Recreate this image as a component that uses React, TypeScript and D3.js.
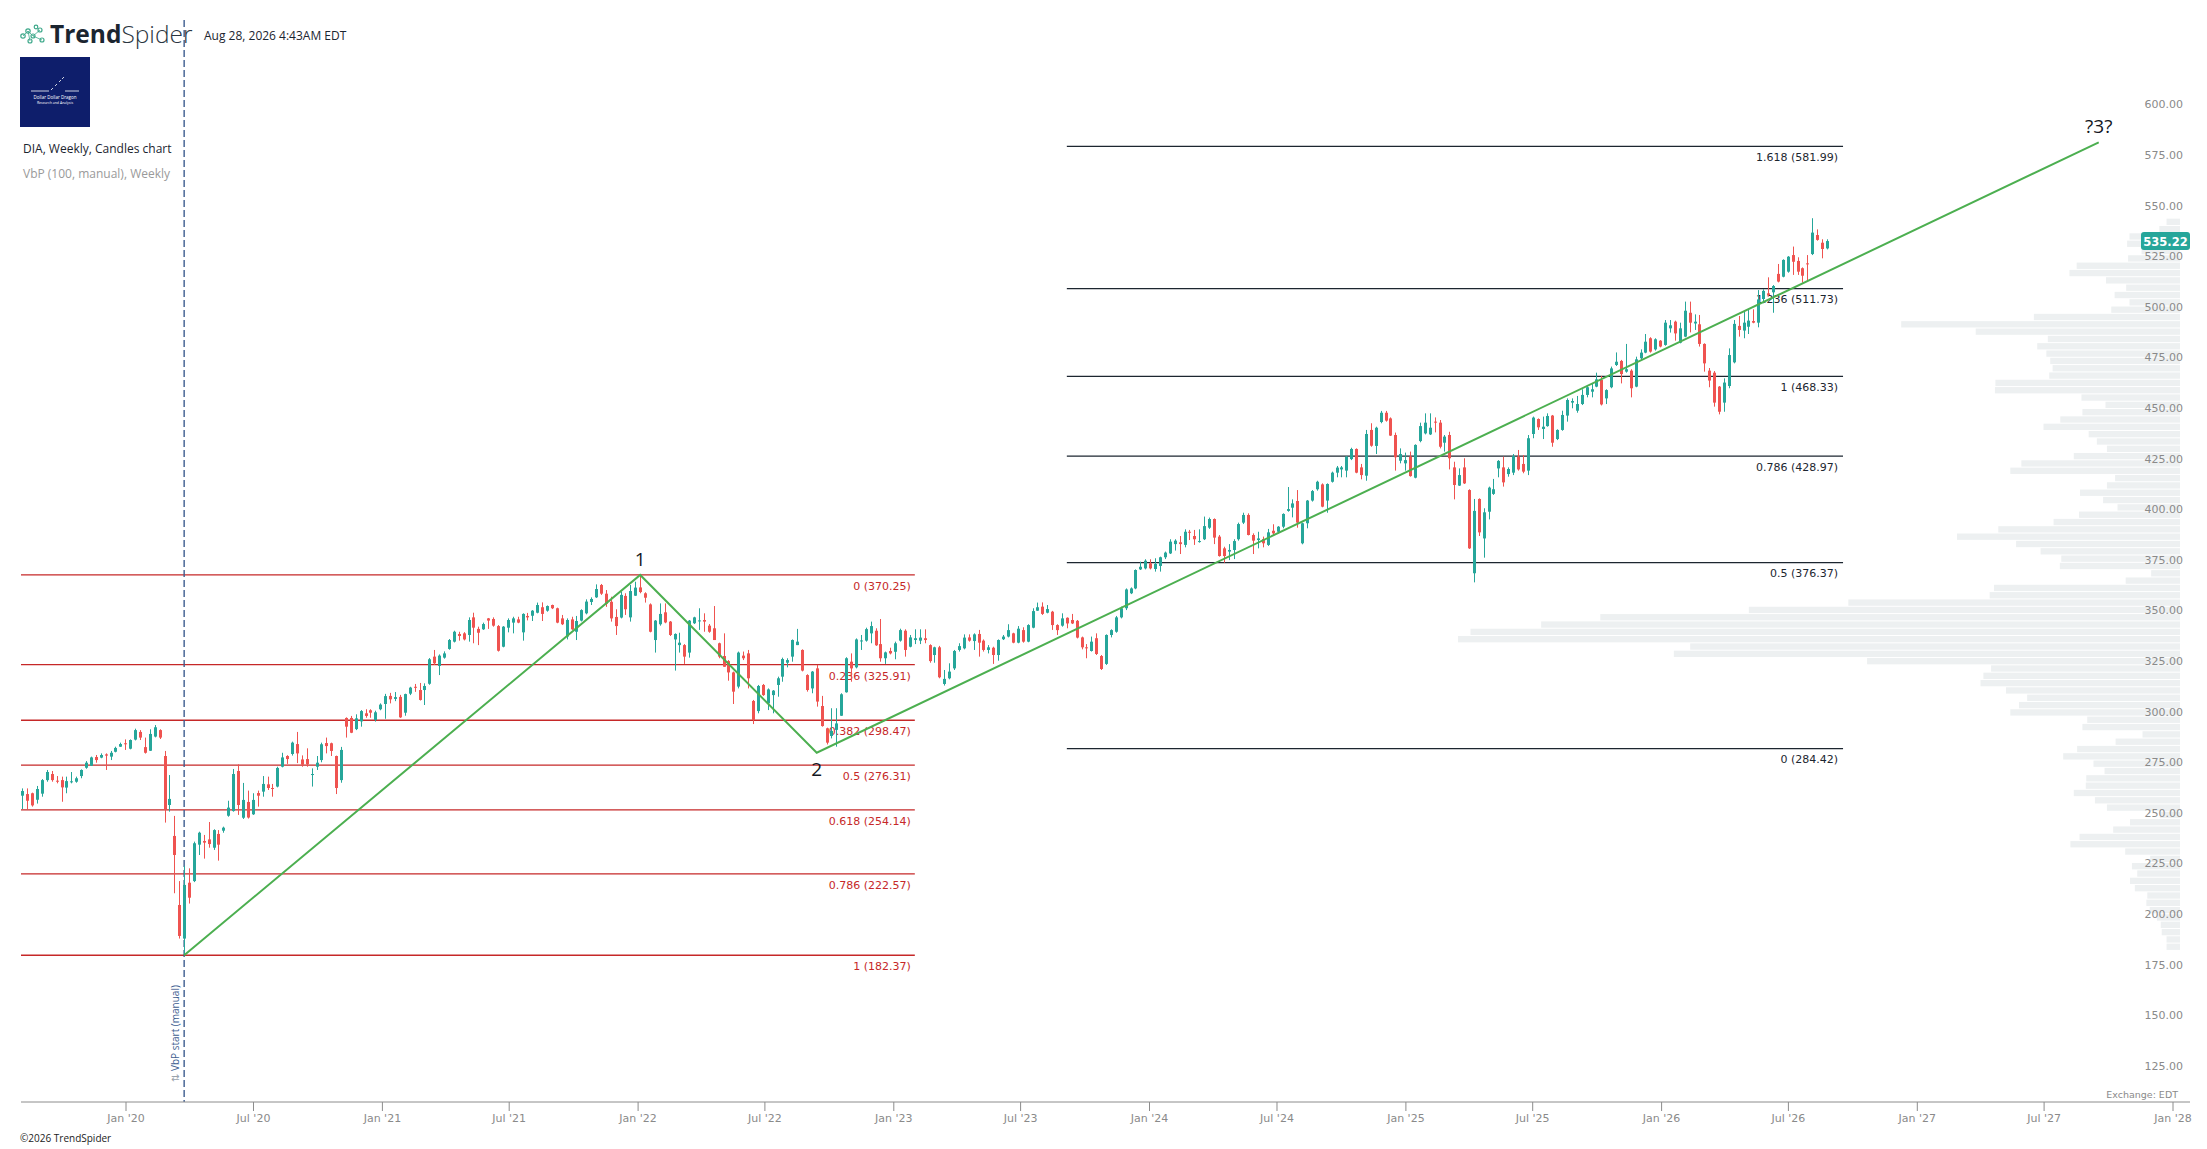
import React from "react";
import * as d3 from "d3";

const W = 2207;
const H = 1149;
const PLOT_LEFT = 21;
const PLOT_RIGHT = 2190;
const AXIS_Y = 1102;
const VBP_RIGHT = 2180;
const VBP_MAX_LEN = 722;

const UP = "#26a69a";
const DOWN = "#ef5350";
const FIB_RED = "#c62828";
const FIB_DARK = "#1c2630";
const WAVE = "#4caf50";
const AXIS_TEXT = "#8a8a8a";

// weekly candles, first one is the week of Aug 5 2019
const FIRST_WEEK = new Date(2019, 7, 6);
// [open, high, low, close]
const CANDLES: [number, number, number, number][] = [
  [261.2,264.8,254.6,263.5],[262.0,264.8,254.6,258.7],[262.4,262.7,255.8,256.4],[259.2,266.0,257.3,264.5],
  [262.2,269.4,260.7,268.9],[268.9,273.9,268.1,272.9],[271.9,273.4,268.1,268.9],[268.6,270.9,267.3,268.1],
  [268.9,270.6,258.2,265.3],[265.2,270.6,262.4,268.4],[267.8,272.9,267.3,268.3],[268.1,270.6,267.6,269.8],
  [270.9,274.2,269.8,273.9],[275.0,278.3,274.5,277.5],[276.0,280.5,275.9,280.1],[280.3,281.3,277.5,278.8],
  [280.0,282.1,279.7,281.3],[281.6,282.1,273.9,281.0],[280.5,283.3,278.8,282.4],[282.9,285.4,282.6,284.8],
  [285.4,287.4,285.3,286.7],[287.1,289.0,283.8,286.6],[284.4,289.0,284.1,288.7],[288.9,294.3,288.5,293.6],
  [292.7,293.6,288.7,289.9],[285.2,289.9,282.0,282.4],[283.4,294.0,283.3,291.7],[290.4,296.1,290.0,295.0],
  [293.6,294.0,289.2,289.9],[280.8,283.3,247.9,254.5],[256.6,271.4,253.3,259.6],[241.3,251.2,213.0,231.9],
  [207.2,219.0,190.6,191.9],[190.6,226.5,182.37,217.1],[218.2,225.3,207.9,210.8],[219.0,238.5,218.5,237.7],
  [237.0,243.4,231.9,242.9],[238.8,241.8,230.1,238.0],[239.6,248.2,235.5,237.3],[235.5,244.6,234.4,244.2],
  [242.3,244.2,229.1,237.0],[243.9,245.9,242.9,245.4],[251.3,258.7,250.8,255.3],[253.6,274.4,253.3,271.9],
  [273.4,276.7,251.7,256.6],[250.3,267.5,249.7,259.1],[258.1,263.7,249.9,250.4],[252.0,262.4,251.7,259.1],
  [262.5,263.7,255.8,261.2],[263.2,270.9,260.7,267.0],[266.8,270.6,264.0,265.0],[265.0,267.0,260.7,264.7],
  [265.7,275.5,265.3,274.9],[275.5,282.4,275.2,280.1],[280.8,281.2,276.9,279.3],[281.8,287.9,281.0,287.4],
  [286.7,292.7,277.3,282.1],[279.1,281.1,275.5,276.5],[279.3,284.6,275.5,276.7],[271.6,274.7,265.7,271.9],
  [275.5,280.8,273.9,277.5],[278.8,287.4,277.7,286.6],[287.2,289.9,282.1,285.7],[287.1,287.4,280.8,283.3],
  [280.8,281.0,262.0,265.0],[268.9,285.3,267.6,283.8],[299.6,299.9,289.9,295.3],[299.6,300.6,292.1,292.3],
  [294.1,301.4,293.6,299.4],[297.9,303.5,295.3,303.0],[301.9,303.9,299.7,300.6],[303.4,303.9,299.7,302.2],
  [298.6,303.2,297.8,302.4],[303.9,306.8,303.4,306.2],[306.5,311.5,299.2,310.4],[310.5,312.0,306.8,308.8],
  [309.0,312.4,307.9,309.9],[310.0,311.0,299.6,299.9],[302.2,311.6,300.7,311.4],[311.6,315.0,310.9,314.6],
  [315.0,316.4,312.5,314.7],[313.4,316.9,308.2,308.5],[313.4,316.7,306.0,315.4],[316.5,329.2,316.0,328.6],
  [329.9,333.2,325.8,326.6],[325.3,331.0,320.8,330.4],[329.4,332.5,328.9,331.5],[333.7,338.6,333.3,338.1],
  [337.3,342.7,336.9,342.2],[341.1,342.2,337.8,340.1],[341.4,342.0,337.9,338.4],[340.6,349.3,337.3,348.0],
  [349.3,351.6,336.5,344.2],[343.6,344.7,335.6,341.7],[343.4,346.7,343.1,346.0],[348.8,349.0,343.6,347.7],
  [348.5,349.3,344.7,345.2],[345.0,345.5,332.4,332.8],[334.8,345.0,334.5,344.7],[344.2,348.8,341.9,348.0],
  [346.7,349.6,341.4,348.8],[348.3,349.6,346.4,346.7],[341.9,351.3,337.8,351.0],[350.0,351.5,347.8,349.3],
  [350.1,352.9,347.5,352.6],[351.6,356.6,351.3,355.4],[354.3,356.7,347.5,351.0],[352.6,355.2,352.1,354.9],
  [355.4,355.6,353.4,353.8],[353.8,354.1,346.4,346.7],[348.8,350.5,345.5,345.9],[339.8,348.8,338.4,348.0],
  [348.3,349.6,343.1,343.4],[342.2,350.0,338.1,347.5],[347.7,353.3,347.3,352.9],[351.3,358.2,350.8,357.1],
  [356.9,359.2,355.4,358.4],[359.2,365.6,358.9,363.3],[365.3,365.8,360.4,361.0],[361.0,362.8,354.5,356.0],
  [357.0,359.5,347.2,348.8],[349.5,353.3,340.6,345.0],[349.2,362.0,348.8,360.4],[359.9,361.2,350.5,353.3],
  [349.3,365.3,347.2,362.3],[360.0,366.9,359.9,364.0],[364.1,370.25,361.2,361.8],[361.2,361.7,356.6,359.0],
  [355.7,356.2,341.9,342.2],[338.1,348.0,331.9,347.7],[345.9,356.2,345.2,351.0],[351.8,356.2,346.4,346.8],
  [347.2,347.5,340.1,340.6],[338.4,341.4,323.0,341.1],[335.6,341.7,331.9,336.8],[335.6,336.1,326.3,329.9],
  [331.9,348.0,329.4,347.7],[346.4,349.6,346.0,349.3],[347.3,353.8,343.1,347.8],[348.0,351.3,342.2,347.2],
  [345.2,346.0,341.7,342.2],[343.9,354.9,338.1,338.1],[336.5,336.8,329.1,329.9],[330.2,341.4,324.9,324.9],
  [327.7,328.2,318.0,322.1],[322.1,322.5,306.5,312.6],[315.1,332.4,314.2,331.9],[330.4,332.4,328.2,329.1],
  [331.5,333.2,314.2,319.2],[308.0,308.5,296.6,298.6],[303.0,315.9,301.9,315.4],[315.9,316.4,310.5,310.9],
  [306.8,314.2,303.5,313.7],[310.9,313.4,301.9,313.1],[315.9,320.0,310.1,319.2],[320.0,329.4,317.5,328.7],
  [326.9,329.1,324.6,328.2],[329.9,338.4,327.4,338.1],[335.6,343.6,335.6,337.3],[333.2,333.5,322.6,323.0],
  [320.8,321.2,312.6,313.4],[314.2,322.8,311.8,322.5],[324.1,325.8,305.2,307.7],[305.5,310.5,295.3,295.6],
  [294.5,294.8,286.5,287.4],[290.7,304.4,289.5,293.2],[293.7,304.4,285.4,296.9],[300.7,311.8,300.6,311.3],
  [312.3,329.6,312.1,329.1],[327.4,331.5,317.5,324.1],[324.6,338.9,324.1,338.4],[337.6,340.6,333.2,337.9],
  [337.8,344.2,337.3,343.5],[341.4,347.2,336.5,345.0],[342.7,343.9,335.2,335.5],[336.1,348.5,327.4,329.1],
  [329.1,332.4,326.3,332.0],[332.7,334.3,331.0,331.5],[332.3,337.3,328.6,336.5],[337.8,343.7,337.3,343.0],
  [342.7,343.4,329.9,333.2],[334.8,340.6,334.5,339.4],[338.1,343.4,336.1,339.0],[337.8,343.4,336.1,339.3],
  [339.0,343.4,336.5,338.1],[335.6,336.0,326.9,327.7],[330.7,334.8,326.9,334.5],[334.5,335.2,319.2,319.7],
  [316.4,323.3,315.6,318.9],[319.2,326.6,318.7,322.5],[324.1,333.2,323.3,332.7],[333.2,336.5,332.4,335.1],
  [334.0,340.9,333.5,339.3],[339.4,340.9,337.3,337.8],[337.6,341.4,333.2,340.9],[341.1,343.1,329.9,336.8],
  [337.8,338.4,332.4,333.2],[333.2,335.6,331.5,334.5],[334.3,334.8,326.3,330.7],[330.7,338.4,327.9,338.1],
  [338.5,340.6,338.1,339.8],[339.8,345.9,339.4,343.0],[341.4,341.7,336.5,336.8],[336.8,345.0,336.5,343.7],
  [343.0,344.4,336.8,337.3],[337.3,345.9,337.0,345.5],[344.2,353.8,343.9,352.4],[352.6,356.6,352.5,354.3],
  [354.6,356.7,350.5,351.0],[351.6,355.4,351.3,353.4],[352.1,352.5,343.1,345.5],[345.5,345.9,340.6,343.0],
  [345.2,351.3,344.7,348.8],[349.1,349.3,343.9,346.3],[348.0,351.0,346.0,346.3],[347.6,348.0,338.9,339.3],
  [339.4,339.8,333.5,334.5],[334.5,336.1,329.1,334.0],[332.7,339.8,332.4,337.3],[339.0,341.4,330.7,331.2],
  [330.2,330.7,323.3,323.8],[326.3,340.9,325.8,340.6],[340.6,343.4,339.4,343.0],[342.2,350.0,341.7,349.3],
  [349.3,354.6,348.8,353.8],[353.8,363.6,352.9,363.1],[361.2,364.1,360.8,363.6],[363.6,373.0,363.2,372.7],
  [373.0,376.8,372.7,374.3],[373.5,378.0,373.0,377.3],[376.0,378.0,373.0,373.5],[373.2,378.5,371.9,375.7],
  [374.7,379.3,371.9,379.0],[379.0,381.8,378.1,381.3],[380.9,387.9,380.6,386.7],[385.5,387.9,382.3,387.2],
  [386.4,389.5,380.6,385.5],[385.1,392.8,383.9,391.6],[391.6,392.5,387.5,391.1],[389.5,392.5,385.1,387.9],
  [386.7,392.8,386.2,387.0],[387.9,399.1,387.5,394.4],[393.6,398.6,393.0,397.9],[397.9,398.2,385.5,388.7],
  [389.2,390.0,379.3,379.6],[383.4,384.2,376.3,379.6],[381.8,385.5,377.6,382.6],[382.6,387.9,378.1,387.0],
  [387.9,396.1,387.2,395.4],[396.1,401.0,395.4,399.9],[399.9,400.7,389.8,390.0],[390.0,390.8,380.6,387.2],
  [387.5,391.6,383.4,388.3],[388.0,389.2,383.9,385.9],[385.1,393.0,384.6,391.3],[392.1,395.3,390.0,390.8],
  [391.6,394.4,390.8,394.1],[394.1,400.7,393.3,400.4],[401.9,413.7,401.5,402.8],[403.5,407.6,398.7,405.6],
  [406.8,412.2,393.6,396.1],[385.9,396.1,385.4,395.8],[395.8,407.3,393.3,407.0],[407.0,412.2,406.5,411.7],
  [412.6,416.8,411.9,416.3],[415.0,415.5,403.7,404.0],[407.0,415.5,401.0,415.2],[416.3,421.3,415.9,420.8],
  [420.8,424.1,418.5,423.3],[422.4,424.1,418.5,423.4],[421.8,429.0,418.5,428.7],[427.5,433.1,427.0,432.5],
  [432.5,432.8,420.5,420.8],[423.4,425.1,417.5,419.6],[419.3,441.9,416.8,439.9],[441.9,445.2,433.6,434.1],
  [434.0,443.5,430.0,443.0],[445.8,451.3,445.2,450.4],[450.4,451.3,446.0,446.5],[447.6,448.1,438.9,439.1],
  [439.4,440.6,421.8,428.4],[426.7,432.8,425.4,430.0],[425.4,430.7,421.8,427.0],[428.7,431.2,418.8,419.1],
  [418.3,434.8,418.0,434.5],[436.4,445.5,435.8,443.8],[440.2,450.1,439.7,445.5],[439.7,450.1,439.4,443.0],
  [446.0,448.1,440.7,445.5],[445.5,446.8,432.8,433.6],[435.6,439.4,431.2,438.6],[439.4,441.0,422.4,427.9],
  [423.4,426.2,407.6,414.7],[414.4,422.9,414.2,419.6],[423.4,427.9,415.2,415.5],[412.2,412.6,383.1,383.4],
  [371.1,407.8,366.6,401.9],[407.8,408.1,389.5,391.3],[388.3,403.2,378.8,401.2],[401.5,413.9,397.7,413.4],
  [410.3,417.7,409.8,412.6],[422.9,427.0,418.5,426.6],[423.4,428.7,413.9,416.0],[420.1,423.4,418.8,422.6],
  [420.8,430.0,419.6,429.0],[428.7,432.0,421.8,422.4],[425.1,429.5,420.5,421.3],[421.8,439.4,419.6,437.8],
  [439.9,448.5,437.8,448.0],[447.3,447.6,441.9,443.2],[442.4,448.5,437.4,443.5],[443.8,450.1,443.5,448.8],
  [449.0,449.3,433.6,435.6],[437.4,442.2,436.9,441.9],[441.9,451.4,441.5,449.3],[449.0,457.5,446.0,456.7],
  [455.4,457.5,452.6,456.2],[451.4,458.7,450.4,454.7],[454.7,462.0,454.2,459.2],[459.2,463.6,458.0,463.0],
  [460.8,464.9,458.0,462.0],[463.3,470.2,463.0,466.9],[466.6,468.6,454.0,454.5],[457.5,462.0,454.7,461.6],
  [463.0,473.2,462.5,472.3],[474.0,480.2,473.5,475.6],[476.0,476.5,464.9,469.5],[470.7,484.4,470.2,471.9],
  [471.2,471.9,458.0,462.5],[463.3,478.1,463.0,476.8],[477.3,481.7,476.5,480.1],[480.1,489.3,479.8,485.5],
  [487.2,487.7,480.1,480.6],[481.7,487.2,481.1,486.7],[486.0,486.3,482.7,483.1],[483.9,496.2,483.5,494.9],
  [492.1,496.2,490.0,493.6],[495.4,495.9,486.0,489.6],[485.0,494.9,484.7,492.1],[488.0,505.3,487.7,500.8],
  [499.8,505.3,490.1,494.9],[494.5,499.0,491.3,495.4],[494.1,498.7,483.1,484.4],[484.4,484.7,470.7,474.8],
  [471.2,472.5,463.0,466.3],[470.2,471.0,453.4,455.4],[463.3,463.6,449.6,450.9],[455.4,467.4,450.9,465.3],
  [463.6,482.2,462.5,478.9],[475.3,496.2,474.8,494.3],[493.3,498.2,488.0,491.3],[491.0,500.3,487.2,494.9],
  [492.9,501.2,489.3,495.9],[495.7,501.5,494.6,494.9],[494.9,511.0,492.6,506.4],[506.6,511.4,504.5,510.6],
  [509.4,517.3,507.8,508.6],[509.9,513.5,499.8,513.0],[519.0,523.9,514.8,515.2],[517.6,526.2,517.3,525.9],
  [520.1,527.8,519.6,527.5],[528.3,532.5,518.5,525.0],[525.4,527.2,518.5,520.1],[521.8,522.2,514.7,518.1],
  [524.2,528.3,515.2,523.9],[528.8,546.5,528.3,539.4],[538.2,541.0,535.4,535.8],[534.4,536.1,526.7,531.3],
  [531.6,536.1,531.1,535.22],
];
const LAST_PRICE = 535.22;

// Fibonacci retracement (red) of the 2020 low -> 2022 high
const RET_RATIOS = ["0", "0.236", "0.382", "0.5", "0.618", "0.786", "1"];
const RET_PRICES = [370.25, 325.91, 298.47, 276.31, 254.14, 222.57, 182.37];
const RET_END = new Date(2023, 0, 31);

// Fibonacci extension (dark)
const EXT_RATIOS = ["1.618", "1.236", "1", "0.786", "0.5", "0"];
const EXT_PRICES = [581.99, 511.73, 468.33, 428.97, 376.37, 284.42];
const EXT_START = new Date(2023, 8, 5);
const EXT_END = new Date(2026, 8, 17);

// wave count drawn by hand
const WAVE_DATES = [new Date(2020, 2, 24), new Date(2022, 0, 4), new Date(2022, 8, 13), new Date(2027, 8, 17)];
const WAVE_PRICES = [182.37, 370.25, 282.4, 584.0];
const WAVE_LABELS = ["", "1", "2", "?3?"];
const WAVE_LABEL_SIDE = [0, -1, 1, -1];

// volume by price, 100 rows listed from the top (546.3) to the bottom (184.5)
const VBP_HIGH = 546.3;
const VBP_LOW = 184.5;
const VBP_TOP_DOWN = [
  28,43,105,110,80,108,215,230,154,112,
  136,105,143,304,580,425,275,297,278,270,
  265,272,384,385,205,155,203,249,284,190,
  173,152,221,330,353,135,152,208,160,130,
  210,263,378,464,341,290,247,250,60,113,
  387,396,690,897,1206,1329,1476,1502,1019,1053,
  651,393,409,415,362,318,335,353,193,203,
  78,134,214,243,180,157,195,196,221,177,
  152,42,104,139,209,228,114,62,100,89,
  104,94,68,70,63,48,40,38,28,28,
];
const VBP_START = new Date(2020, 2, 24);

const Y_TICKS = d3.range(125, 601, 25);

export default function App() {
  const x = d3.scaleTime()
    .domain([new Date(2020, 0, 1), new Date(2028, 0, 1)])
    .range([126, 2173]);
  const y = d3.scaleLinear().domain([125, 600]).range([1071.35, 109.95]);

  const xTicks = x.ticks(d3.timeMonth.every(6)!).filter(d => x(d) >= PLOT_LEFT);
  const fmt = d3.timeFormat("%b '%y");

  const candleDate = (i: number) => d3.timeDay.offset(FIRST_WEEK, i * 7);

  const rowH = (y(VBP_LOW) - y(VBP_HIGH)) / VBP_TOP_DOWN.length;
  const vbpLen = d3.scaleLinear().domain([0, d3.max(VBP_TOP_DOWN)!]).range([0, VBP_MAX_LEN]);

  const wavePts = WAVE_DATES.map((d, i) => [x(d), y(WAVE_PRICES[i])] as [number, number]);
  const waveLine = d3.line<[number, number]>()(wavePts) || "";

  const sans = "'Open Sans', 'DejaVu Sans', sans-serif";
  const dv = "'DejaVu Sans', sans-serif";
  const vbpX = x(VBP_START);
  const lastY = y(LAST_PRICE);

  return (
    <svg width={W} height={H} style={{ position: "absolute", left: 0, top: 0, display: "block", background: "#fff" }}>
      <rect width={W} height={H} fill="#fff" />

      {/* volume profile */}
      <g>
        {VBP_TOP_DOWN.map((v, i) => (
          <rect key={i} x={VBP_RIGHT - vbpLen(v)} y={y(VBP_HIGH) + i * rowH}
            width={vbpLen(v)} height={rowH - 1} fill="#edf0f1" />
        ))}
      </g>

      {/* y axis labels */}
      <g fontFamily={dv} fontSize={11} fill={AXIS_TEXT} textAnchor="end">
        {Y_TICKS.map(t => (
          <text key={t} x={2183} y={y(t) - 1.5}>{t.toFixed(2)}</text>
        ))}
      </g>

      {/* retracement */}
      <g>
        {RET_PRICES.map((p, i) => (
          <g key={i}>
            <line x1={PLOT_LEFT} x2={x(RET_END)} y1={y(p)} y2={y(p)} stroke={FIB_RED} strokeWidth={1.3} />
            <text x={x(RET_END) - 4} y={y(p) + 15} fontFamily={dv} fontSize={11} fill={FIB_RED} textAnchor="end">
              {`${RET_RATIOS[i]} (${p.toFixed(2)})`}
            </text>
          </g>
        ))}
      </g>

      {/* extension */}
      <g>
        {EXT_PRICES.map((p, i) => (
          <g key={i}>
            <line x1={x(EXT_START)} x2={x(EXT_END)} y1={y(p)} y2={y(p)} stroke={FIB_DARK} strokeWidth={1.2} />
            <text x={x(EXT_END) - 5} y={y(p) + 14.5} fontFamily={dv} fontSize={11} fill={FIB_DARK} textAnchor="end">
              {`${EXT_RATIOS[i]} (${p.toFixed(2)})`}
            </text>
          </g>
        ))}
      </g>

      {/* VbP start marker */}
      <line x1={vbpX} x2={vbpX} y1={20} y2={AXIS_Y} stroke="#3d5d8f" strokeWidth={1.4} strokeDasharray="7,3" />
      <text transform={`translate(${vbpX - 5},${1082}) rotate(-90)`} fontFamily={sans} fontSize={10} fill="#3d5d8f">
        <tspan fill="#9aa3ad">⇅</tspan> VbP start (manual)
      </text>

      {/* candles */}
      <g>
        {CANDLES.map(([o, h, l, c], i) => {
          const cx = Math.round(x(candleDate(i))) + 0.5;
          const col = c >= o ? UP : DOWN;
          const top = y(Math.max(o, c));
          const bh = Math.max(1, y(Math.min(o, c)) - top);
          return (
            <g key={i}>
              <line x1={cx} x2={cx} y1={y(h)} y2={y(l)} stroke={col} strokeWidth={1} />
              <rect x={cx - 1.5} y={top} width={3} height={bh} fill={col} />
            </g>
          );
        })}
      </g>

      {/* wave line */}
      <path d={waveLine} fill="none" stroke={WAVE} strokeWidth={2} />
      <g fontFamily={sans} fontSize={19} fill="#131722" textAnchor="middle">
        {wavePts.map(([px, py], i) => WAVE_LABELS[i] ? (
          <text key={i} x={px} y={WAVE_LABEL_SIDE[i] < 0 ? py - 9 : py + 23}>{WAVE_LABELS[i]}</text>
        ) : null)}
      </g>

      {/* last price */}
      <rect x={2141} y={lastY - 9} width={49} height={18} rx={3} fill={UP} />
      <text x={2165.5} y={lastY + 4.5} fontFamily={dv} fontSize={11.5} fontWeight="bold" fill="#fff" textAnchor="middle">
        {LAST_PRICE.toFixed(2)}
      </text>

      {/* x axis */}
      <line x1={PLOT_LEFT} x2={PLOT_RIGHT} y1={AXIS_Y} y2={AXIS_Y} stroke="#8c8c8c" strokeWidth={1} />
      <g fontFamily={dv} fontSize={11} fill={AXIS_TEXT} textAnchor="middle">
        {xTicks.map((d, i) => (
          <g key={i}>
            <line x1={x(d)} x2={x(d)} y1={AXIS_Y} y2={AXIS_Y + 9} stroke="#8c8c8c" />
            <text x={x(d)} y={1121.5}>{fmt(d)}</text>
          </g>
        ))}
      </g>
      <text x={2178} y={1098} fontFamily={dv} fontSize={9.5} fill={AXIS_TEXT} textAnchor="end">Exchange: EDT</text>
      <text x={20} y={1142} fontFamily={sans} fontSize={10} fill="#222">©2026 TrendSpider</text>

      {/* header */}
      <g stroke="#3fa98b" strokeWidth={1.2} fill="none">
        <path d="M23,36 L28,31 L33,36 M28,31 L30,41 M33,36 L40,30 M33,36 L42,40" strokeWidth={0.8} />
        <circle cx={23} cy={36} r={2.2} />
        <circle cx={28} cy={31} r={2.2} />
        <circle cx={33} cy={36} r={2} />
        <circle cx={30} cy={41} r={2} />
        <circle cx={40} cy={30} r={2} />
        <circle cx={42} cy={40} r={2} />
        <circle cx={36} cy={27} r={1.8} />
      </g>
      <text x={50} y={43} fontFamily={sans} fontSize={24.5} fill="#1b2530">
        <tspan fontWeight="bold">Trend</tspan><tspan fontWeight={300} fill="#2a3540">Spider</tspan>
      </text>
      <text x={204} y={40} fontFamily={sans} fontSize={12} fill="#1b2530">Aug 28, 2026 4:43AM EDT</text>

      <rect x={20} y={57} width={70} height={70} fill="#0e1e6b" />
      <g stroke="#fff" strokeWidth={0.8}>
        <line x1={31} x2={49} y1={91} y2={91} />
        <line x1={65} x2={79} y1={91} y2={91} />
        <line x1={51} x2={53} y1={90} y2={88} />
        <line x1={55} x2={57} y1={86} y2={84} />
        <line x1={59} x2={61} y1={82} y2={80} />
        <line x1={62} x2={64} y1={79} y2={77} />
      </g>
      <text x={55} y={99} fontFamily={sans} fontSize={4.5} fill="#fff" textAnchor="middle">Dollar Dollar Dragon</text>
      <text x={55} y={104} fontFamily={sans} fontSize={3.5} fill="#fff" textAnchor="middle">Research and Analysis</text>

      <text x={23} y={153} fontFamily={sans} fontSize={12} fill="#1b2530">DIA, Weekly, Candles chart</text>
      <text x={23} y={178} fontFamily={sans} fontSize={12} fill="#9a9a9a">VbP (100, manual), Weekly</text>
    </svg>
  );
}
